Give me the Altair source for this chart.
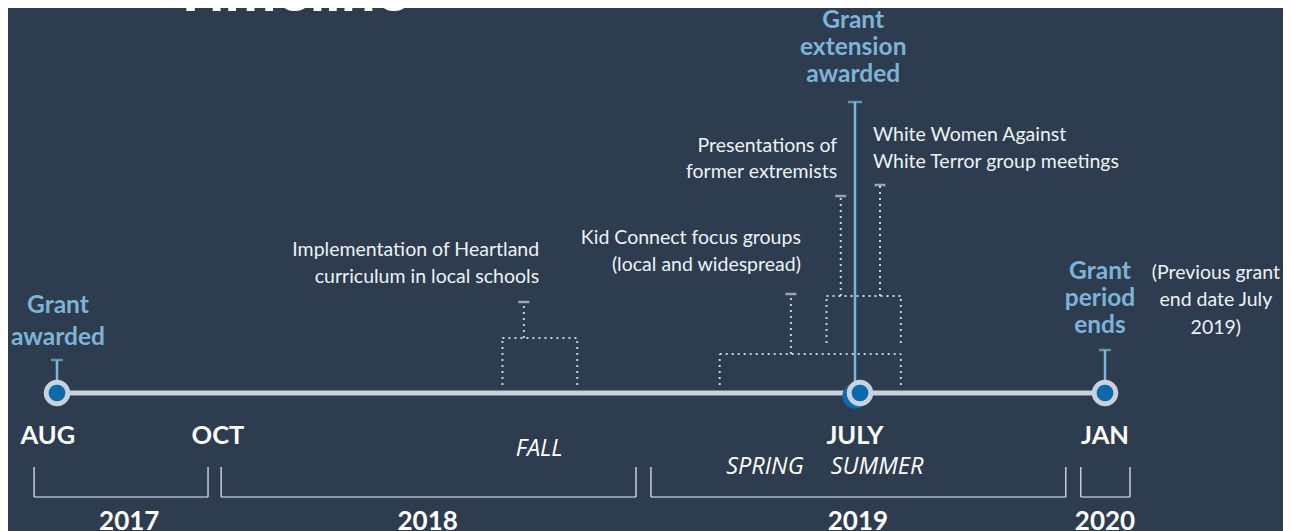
import altair as alt
import pandas as pd

# ---------------- data ----------------
BG = "#2d3c4f"
LIGHT_BLUE = "#7cb4d8"
DOT_BLUE = "#0b6aae"
RAIL = "#c9d1dc"
TEXT = "#eef2f6"
FONT = "Lato"

# month index = months since Jan 2017
timeline_start = 7      # Aug 2017
timeline_end = 36       # Jan 2020

milestone_month = [7, 30, 36]
milestone_stem_top = [33, 291, 43]
milestone_cap = [12, 14, 12]
dot_x = [7, 30.12, 36]
shadow_x = [30.0]
shadow_y = [-3]

# event brackets (dotted)
event_name = ["Heartland", "Kid Connect", "Presentations", "White Women"]
event_start = [20.1, 26.2, 29.2, 29.2]
event_end = [22.2, 31.1, 31.1, 31.1]
event_leg_bottom = [8, 8, 50, 50]
event_level = [55, 39, 97, 97]
event_stem_x = [20.7, 28.2, 29.6, 30.6]
event_stem_top = [91, 99, 197, 208]

# event text lines
event_text = ["Implementation of Heartland", "curriculum in local schools",
              "Kid Connect focus groups", "(local and widespread)",
              "Presentations of", "former extremists",
              "White Women Against", "White Terror group meetings"]
event_text_x = [21.13, 21.13, 28.48, 28.48, 29.5, 29.5, 30.43, 30.43]
event_text_y = [143, 116, 155, 128, 247, 221, 258, 231]
event_text_align = ["right", "right", "right", "right", "right", "right", "left", "left"]

note_text = ["(Previous grant", "end date July", "2019)"]
note_x = [38.66, 38.66, 38.66]
note_y = [120, 93, 65]

grant_text = ["Grant", "awarded",
              "Grant", "extension", "awarded",
              "Grant", "period", "ends"]
grant_x = [7.03, 7.03, 29.95, 29.95, 29.95, 35.88, 35.88, 35.88]
grant_y = [87, 55, 372, 345, 318, 121, 94, 67]

month_label = ["AUG", "OCT", "JULY", "JAN"]
month_x = [6.71, 12.11, 30.0, 36.0]
month_y = -43

season_label = ["FALL", "SPRING", "SUMMER"]
season_x = [21.13, 27.47, 30.53]
season_y = [-56, -74, -74]

year_label = ["2017", "2018", "2019", "2020"]
year_start = [6.27, 12.2, 24.27, 35.42]
year_end = [11.81, 23.85, 35.06, 36.6]
year_label_x = [9.3, 18.0, 30.07, 36.0]
year_top = -74
year_bottom = -104
year_label_y = -129

title_text = "Timeline"
title_x = 10.66
title_y = 382

# ---------------- scales ----------------
xs = alt.Scale(domain=[7, 12, 30, 36], range=[49, 206, 847, 1097], zero=False, nice=False)
ys = alt.Scale(domain=[-130, 385], range=[515, 0], zero=False, nice=False)
X = lambda f: alt.X(f, type="quantitative", scale=xs, axis=None)
Y = lambda f: alt.Y(f, type="quantitative", scale=ys, axis=None)

# ---------------- tables ----------------
rail_df = pd.DataFrame({"x": [timeline_start], "x2": [timeline_end], "y": [0]})

segs = []
for i in range(len(event_name)):
    s, e, b, l, sx, st = (event_start[i], event_end[i], event_leg_bottom[i],
                          event_level[i], event_stem_x[i], event_stem_top[i])
    segs += [dict(x=s, x2=s, y=b, y2=l), dict(x=e, x2=e, y=b, y2=l),
             dict(x=s, x2=e, y=l, y2=l), dict(x=sx, x2=sx, y=l, y2=st)]
seg_df = pd.DataFrame(segs).drop_duplicates()
cap_df = pd.DataFrame({"x": event_stem_x, "y": event_stem_top})

ms_df = pd.DataFrame({"x": milestone_month, "y": [8] * 3, "y2": milestone_stem_top,
                      "cap": milestone_cap})

ev_df = pd.DataFrame({"x": event_text_x, "y": event_text_y, "t": event_text,
                      "a": event_text_align})
note_df = pd.DataFrame({"x": note_x, "y": note_y, "t": note_text})
grant_df = pd.DataFrame({"x": grant_x, "y": grant_y, "t": grant_text})
month_df = pd.DataFrame({"x": month_x, "y": [month_y] * 4, "t": month_label})
season_df = pd.DataFrame({"x": season_x, "y": season_y, "t": season_label})
yr_df = pd.DataFrame({"s": year_start, "e": year_end, "top": [year_top] * 4,
                      "bot": [year_bottom] * 4, "lx": year_label_x,
                      "ly": [year_label_y] * 4, "t": year_label})
title_df = pd.DataFrame({"x": [title_x], "y": [title_y], "t": [title_text]})
dot_df = pd.DataFrame({"x": dot_x, "y": [0] * 3})
shadow_df = pd.DataFrame({"x": shadow_x, "y": shadow_y})

# ---------------- layers ----------------
title = alt.Chart(title_df).mark_text(font=FONT, fontSize=62, fontWeight="bold",
                                      color="white", align="left",
                                      baseline="alphabetic").encode(x=X("x"), y=Y("y"), text="t")

rail = alt.Chart(rail_df).mark_rule(color=RAIL, strokeWidth=5).encode(x=X("x"), x2="x2", y=Y("y"))

dots_rule = alt.Chart(seg_df).mark_rule(color=RAIL, strokeWidth=2, strokeDash=[2, 4]).encode(
    x=X("x"), x2="x2", y=Y("y"), y2="y2")
caps = alt.Chart(cap_df).mark_tick(color=RAIL, orient="horizontal", size=11, thickness=2.5).encode(
    x=X("x"), y=Y("y"))

ms_stem = alt.Chart(ms_df).mark_rule(color=LIGHT_BLUE, strokeWidth=2.5).encode(
    x=X("x"), y=Y("y"), y2="y2")
ms_cap = alt.Chart(ms_df).mark_tick(color=LIGHT_BLUE, orient="horizontal", thickness=2.5).encode(
    x=X("x"), y=Y("y2"), size=alt.Size("cap:Q", scale=None, legend=None))

dot_shadow = alt.Chart(shadow_df).mark_point(shape="circle", filled=True, size=640, color=DOT_BLUE,
                                             opacity=1).encode(x=X("x"), y=Y("y"))
dot_outer = alt.Chart(dot_df).mark_point(shape="circle", filled=True, size=700, color=RAIL,
                                         opacity=1).encode(x=X("x"), y=Y("y"))
dot_inner = alt.Chart(dot_df).mark_point(shape="circle", filled=True, size=280, color=DOT_BLUE,
                                         opacity=1).encode(x=X("x"), y=Y("y"))

ev_r = alt.Chart(ev_df[ev_df.a == "right"]).mark_text(font=FONT, fontSize=19.5, color=TEXT,
                                                      align="right", baseline="middle").encode(
    x=X("x"), y=Y("y"), text="t")
ev_l = alt.Chart(ev_df[ev_df.a == "left"]).mark_text(font=FONT, fontSize=19.5, color=TEXT,
                                                     align="left", baseline="middle").encode(
    x=X("x"), y=Y("y"), text="t")
note = alt.Chart(note_df).mark_text(font=FONT, fontSize=19.5, color=TEXT, align="center",
                                    baseline="middle").encode(x=X("x"), y=Y("y"), text="t")
grant = alt.Chart(grant_df).mark_text(font=FONT, fontSize=24.5, fontWeight="bold", color=LIGHT_BLUE,
                                      align="center", baseline="middle").encode(
    x=X("x"), y=Y("y"), text="t")
months = alt.Chart(month_df).mark_text(font=FONT, fontSize=25.5, fontWeight="bold", color="white",
                                       align="center", baseline="middle").encode(
    x=X("x"), y=Y("y"), text="t")
seasons = alt.Chart(season_df).mark_text(font="Open Sans", fontSize=23.5, fontStyle="italic",
                                         color="white", align="center", baseline="middle").encode(
    x=X("x"), y=Y("y"), text="t")

yr_base = alt.Chart(yr_df)
yr_left = yr_base.mark_rule(color=TEXT, strokeWidth=1.2).encode(x=X("s"), y=Y("top"), y2="bot")
yr_right = yr_base.mark_rule(color=TEXT, strokeWidth=1.2).encode(x=X("e"), y=Y("top"), y2="bot")
yr_bottom = yr_base.mark_rule(color=TEXT, strokeWidth=1.2).encode(x=X("s"), x2="e", y=Y("bot"))
yr_text = yr_base.mark_text(font=FONT, fontSize=26, fontWeight="bold", color="white",
                            align="center", baseline="middle").encode(x=X("lx"), y=Y("ly"), text="t")

chart = alt.layer(
    title, rail, dots_rule, caps, ms_stem, ms_cap, dot_shadow, dot_outer, dot_inner,
    ev_r, ev_l, note, grant, months, seasons,
    yr_left, yr_right, yr_bottom, yr_text,
).properties(
    width=1275, height=523, background=BG, padding=0,
    autosize=alt.AutoSizeParams(type="none"),
).configure_view(stroke=None)

chart.save("out.html", embed_options={"renderer": "svg", "actions": False})
